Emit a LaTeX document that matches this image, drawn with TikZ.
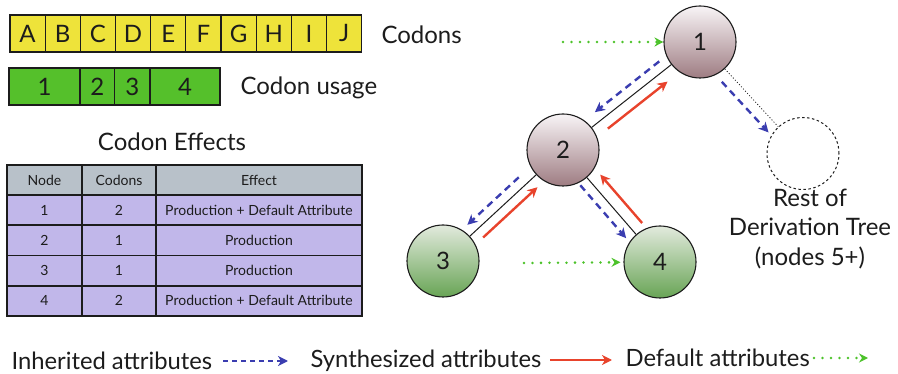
\documentclass[tikz,border=0pt]{standalone}
\usepackage{fontspec}
\setmainfont{Lato}
\usetikzlibrary{calc,arrows.meta}
\definecolor{ink}{HTML}{1C1C1C}
\definecolor{codonyellow}{HTML}{EEE33A}
\definecolor{usagegreen}{HTML}{55C02B}
\definecolor{headgray}{HTML}{B8C1C9}
\definecolor{rowlav}{HTML}{C1B7EA}
\definecolor{inhblue}{HTML}{3A3DB0}
\definecolor{synred}{HTML}{E8432C}
\definecolor{defgreen}{HTML}{4CC22A}
\definecolor{mauvetop}{HTML}{F8F4F6}
\definecolor{mauvebot}{HTML}{9E7C82}
\definecolor{sagetop}{HTML}{E2EADD}
\definecolor{sagebot}{HTML}{68A455}
\newcommand{\bigfont}{\fontsize{24}{28}\selectfont}
\newcommand{\cellfont}{\fontsize{14}{16}\selectfont}
\begin{document}
\begin{tikzpicture}[x=1pt,y=-1pt,
  every node/.style={text=ink},
  codonbox/.style={draw=ink,line width=1.1pt,fill=codonyellow,minimum width=35.17pt,minimum height=37pt,inner sep=0pt,font=\bigfont},
  usagebox/.style={draw=ink,line width=1.1pt,fill=usagegreen,minimum height=37pt,inner sep=0pt,font=\bigfont},
  cell/.style={draw=ink,line width=1.6pt,minimum height=30pt,inner sep=0pt,font=\cellfont,fill=rowlav},
  headcell/.style={cell,fill=headgray},
  treenode/.style={circle,draw=ink,line width=1.1pt,minimum size=72pt,inner sep=0pt,font=\fontsize{24}{28}\selectfont},
  upper/.style={treenode,top color=mauvetop,bottom color=mauvebot},
  lower/.style={treenode,top color=sagetop,bottom color=sagebot},
  treeedge/.style={draw=ink,line width=1pt},
  inh/.style={draw=inhblue,line width=2.4pt,dash pattern=on 7pt off 5pt,-{Stealth[length=10pt,width=10pt,inset=3pt]}},
  syn/.style={draw=synred,line width=2.4pt,-{Stealth[length=10pt,width=10pt,inset=3pt]}},
  dflt/.style={draw=defgreen,line width=2.8pt,line cap=round,dash pattern=on 0pt off 8.5pt,-{Stealth[length=9pt,width=9pt,inset=3pt]}},
  legendfont/.style={font=\fontsize{23.8}{28}\selectfont}
]
\useasboundingbox (0,0) rectangle (898,374);

% codon string
\foreach \l [count=\i from 0] in {A,B,C,D,E,F,G,H,I,J}
  \node[codonbox] (c\i) at ({10+35.17*(\i+0.5)},33.5) {\l};
\node[anchor=west,font=\bigfont] (codlab) at (378,35) {Codons};

% codon usage per node
\node[usagebox,minimum width=71pt] (u1) at (44.5,86.5) {1};
\node[usagebox,minimum width=34.5pt] (u2) at (97.25,86.5) {2};
\node[usagebox,minimum width=35.5pt] (u3) at (132.25,86.5) {3};
\node[usagebox,minimum width=70pt] (u4) at (185,86.5) {4};
\node[anchor=west,font=\bigfont] (uselab) at (237,88) {Codon usage};

% table of codon effects
\node[font=\bigfont] (efftitle) at (172,142) {Codon Effects};
\node[headcell,minimum width=75pt] (h1) at (44.5,180) {Node};
\node[headcell,minimum width=74pt] (h2) at (119,180) {Codons};
\node[headcell,minimum width=206pt] (h3) at (259,180) {Effect};
\foreach \n/\c/\e [count=\r from 1] in {1/2/Production + Default Attribute,2/1/Production,3/1/Production,4/2/Production + Default Attribute}{
  \node[cell,minimum width=75pt] (r\r a) at (44.5,{180+30.2*\r}) {\n};
  \node[cell,minimum width=74pt] (r\r b) at (119,{180+30.2*\r}) {\c};
  \node[cell,minimum width=206pt] (r\r c) at (259,{180+30.2*\r}) {\e};
}

% derivation tree
\node[upper] (n1) at (700,42) {1};
\node[upper] (n2) at (563,150) {2};
\node[lower] (n3) at (443,261) {3};
\node[lower] (n4) at (660,262) {4};
\node[circle,draw=ink,line width=1pt,dash pattern=on 2.5pt off 2.5pt,minimum size=72pt] (rest) at (803,153.5) {};
\node[align=center,font=\fontsize{24}{29.5}\selectfont] (restlab) at (810,229) {Rest of\\Derivation Tree\\(nodes 5+)};

\draw[treeedge] (n1) -- (n2);
\draw[treeedge] (n2) -- (n3);
\draw[treeedge] (n2) -- (n4);
\draw[draw=ink,line width=0.8pt,dash pattern=on 1pt off 2pt] (n1) -- (rest);

% inherited attributes flow down
\draw[inh] ($(n1)!44pt!(n2)!-10pt!90:(n2)$) -- ($(n1)!126pt!(n2)!-10pt!90:(n2)$);
\draw[inh] ($(n2)!51pt!(n3)!-10pt!90:(n3)$) -- ($(n2)!121pt!(n3)!-10pt!90:(n3)$);
\draw[inh] ($(n2)!38pt!(n4)!-10pt!90:(n4)$) -- ($(n2)!108pt!(n4)!-10pt!90:(n4)$);
\draw[inh] ($(n1)!44pt!(rest)!-11pt!90:(rest)$) -- ($(n1)!113pt!(rest)!-11pt!90:(rest)$);
% synthesized attributes flow up
\draw[syn] ($(n1)!126pt!(n2)!11pt!90:(n2)$) -- ($(n1)!50pt!(n2)!11pt!90:(n2)$);
\draw[syn] ($(n2)!118pt!(n3)!10pt!90:(n3)$) -- ($(n2)!44pt!(n3)!10pt!90:(n3)$);
\draw[syn] ($(n2)!107pt!(n4)!12pt!90:(n4)$) -- ($(n2)!43pt!(n4)!12pt!90:(n4)$);
% default attributes
\coordinate (g1) at (563,42);
\coordinate (g2) at (524,263);
\draw[dflt] (g1) -- (n1);
\draw[dflt,shorten >=3pt] (g2) -- (n4);

% legend
\node[anchor=west,legendfont] (linh) at (8,361) {Inherited attributes};
\coordinate (lb1) at (223,361);
\coordinate (lb2) at (288,361);
\draw[inh,line width=2.2pt,dash pattern=on 5pt off 4pt] (lb1) -- (lb2);
\node[anchor=west,legendfont] (lsyn) at (307,361) {Synthesized attributes};
\coordinate (lr1) at (550,360);
\coordinate (lr2) at (612,360);
\draw[syn] (lr1) -- (lr2);
\node[anchor=west,legendfont] (ldef) at (622,358) {Default attributes};
\coordinate (lg1) at (814,358);
\coordinate (lg2) at (868,358);
\draw[dflt] (lg1) -- (lg2);
\end{tikzpicture}
\end{document}
